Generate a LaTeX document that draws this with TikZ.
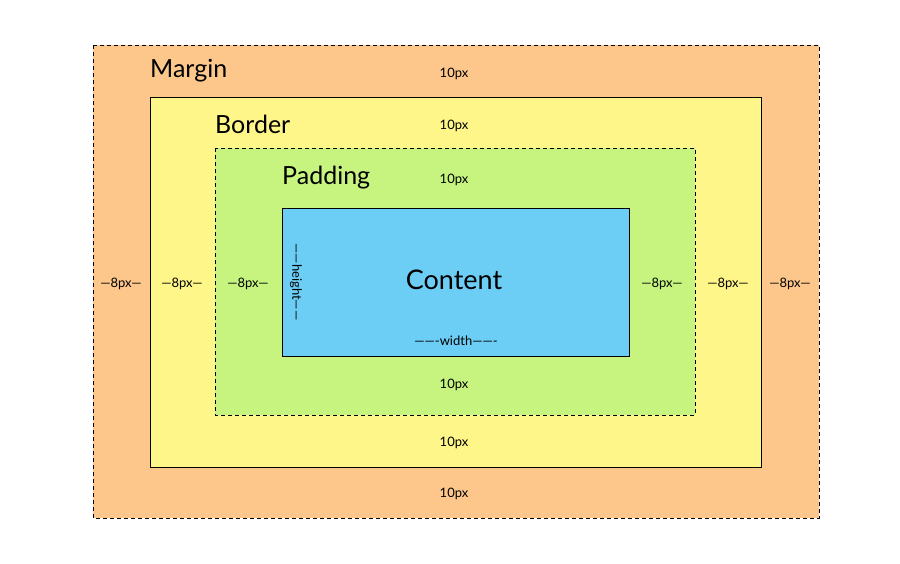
\documentclass[tikz,border=0pt]{standalone}
\usepackage{fontspec}
\setmainfont{Lato}
\definecolor{cmargin}{HTML}{FDC78C}
\definecolor{cborder}{HTML}{FEF689}
\definecolor{cpad}{HTML}{C6F47F}
\definecolor{ccont}{HTML}{6DCEF5}
\begin{document}
\begin{tikzpicture}[x=1pt,y=-1pt,
  box/.style={draw=black,line width=0.9pt},
  dbox/.style={box,dash pattern=on 4pt off 3pt},
  title/.style={font=\fontsize{25}{28}\selectfont,anchor=west,inner sep=0pt},
  lbl/.style={font=\fontsize{13}{15}\selectfont,inner sep=0pt}]
\useasboundingbox (0,0) rectangle (900,563);
\fill[white] (0,0) rectangle (900,563);
\draw[dbox,fill=cmargin] (93,45) rectangle (819,518);
\draw[box,fill=cborder] (150,97) rectangle (761,467);
\draw[dbox,fill=cpad] (215,148) rectangle (695,415);
\draw[box,fill=ccont] (282,208) rectangle (629,356);
\node[title] (tm) at (150,71) {Margin};
\node[title] (tb) at (215,124) {Border};
\node[title] (tp) at (282,178) {Padding};
\node[font=\fontsize{27}{30}\selectfont] (tc) at (454,280) {Content};
\foreach \y/\n in {74/a,126/b,180/c,385/d,443/e,494/f}
  \node[lbl] (t\n) at (454,\y) {10px};
\foreach \x/\n in {121/a,182/b,248/c,662/d,728/e,790/f}
  \node[lbl] (p\n) at (\x,284) {---8px---};
\node[lbl,rotate=-90] (h) at (296,282) {------height------};
\node[lbl] (w) at (456,341) {-------width-------};
\end{tikzpicture}
\end{document}
